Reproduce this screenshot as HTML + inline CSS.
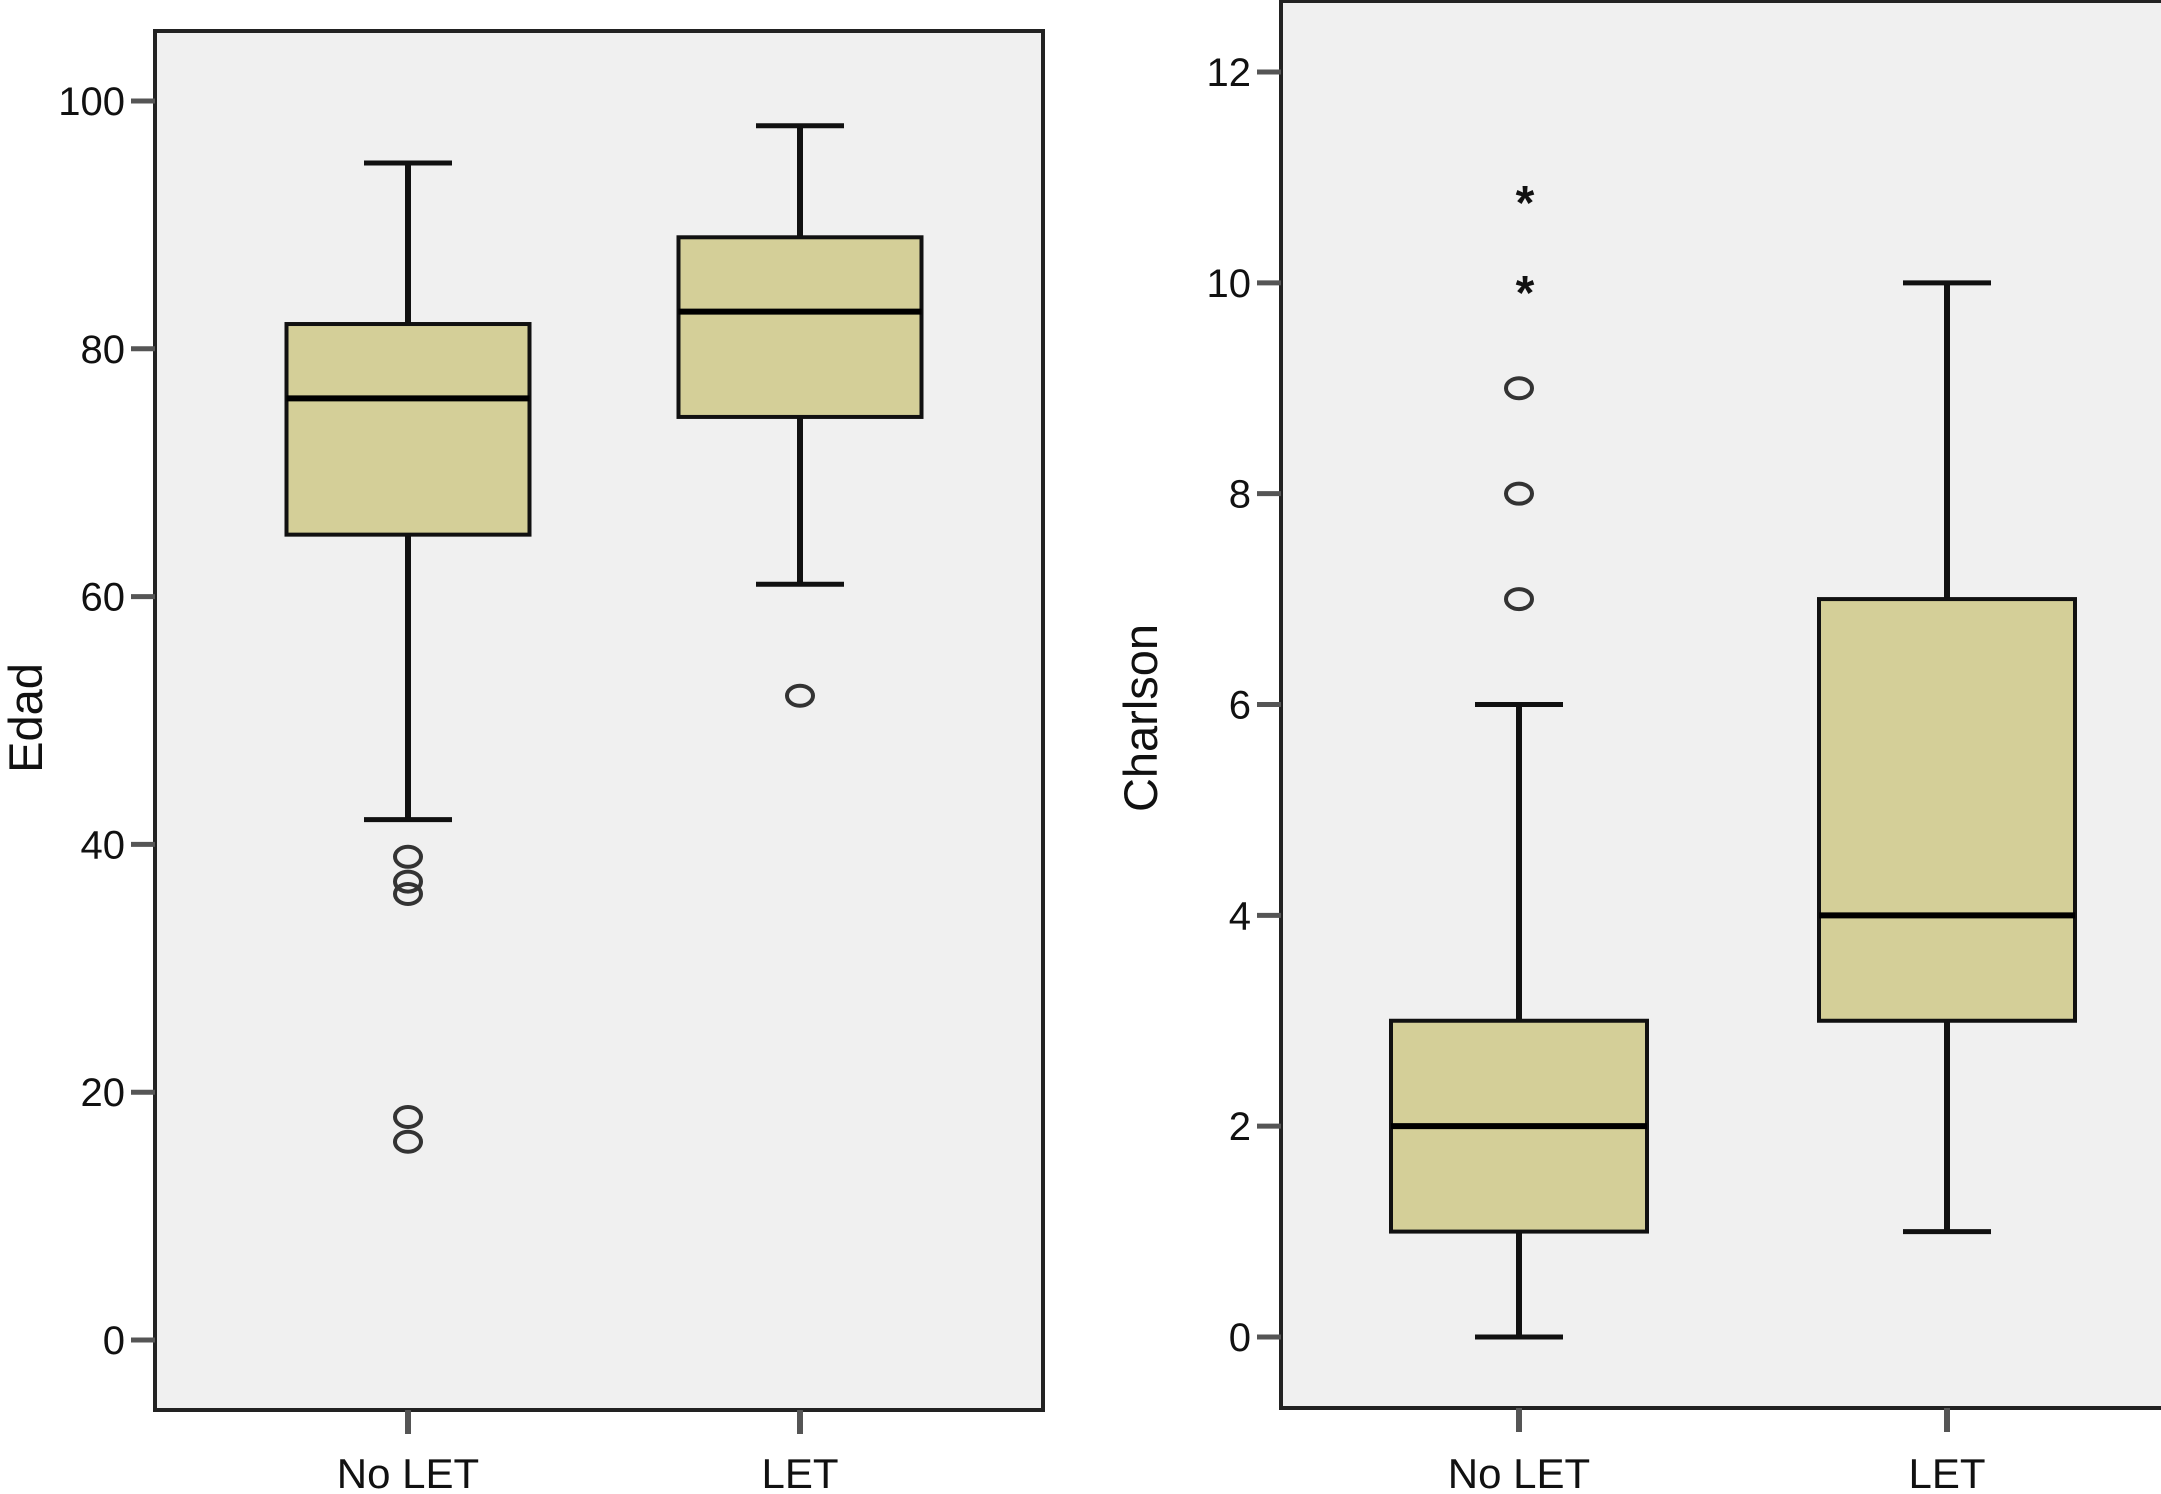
<!DOCTYPE html>
<html><head><meta charset="utf-8"><style>
html,body{margin:0;padding:0;background:#fff;}
svg{display:block;font-family:"Liberation Sans",sans-serif;}
</style></head><body>
<svg id="chart" width="2161" height="1494" viewBox="0 0 2161 1494" xmlns="http://www.w3.org/2000/svg"></svg>
<script>
const categories = ["No LET", "LET"];
const edadLow = [42, 61];
const edadQ1 = [65, 74.5];
const edadMedian = [76, 83];
const edadQ3 = [82, 89];
const edadHigh = [95, 98];
const edadOutliers = [[39, 37, 36, 18, 16], [52]];
const edadTicks = [0, 20, 40, 60, 80, 100];
const chLow = [0, 1];
const chQ1 = [1, 3];
const chMedian = [2, 4];
const chQ3 = [3, 7];
const chHigh = [6, 10];
const chOutliers = [[7, 8, 9], []];
const chExtremes = [[10, 10.85], []];
const chTicks = [0, 2, 4, 6, 8, 10, 12];

const NS = "http://www.w3.org/2000/svg";
const svg = document.getElementById("chart");
function mk(tag, attrs, parent) {
  const e = document.createElementNS(NS, tag);
  for (const k in attrs) e.setAttribute(k, attrs[k]);
  (parent || svg).appendChild(e);
  return e;
}

function panel(cfg) {
  const g = mk("g", {});
  
  
  const y = v => cfg.y0 + (v - cfg.vmin) * (cfg.y1 - cfg.y0) / (cfg.vmax - cfg.vmin);
  const frame = mk("rect", {x: cfg.fx0, y: cfg.fy0, width: cfg.fx1 - cfg.fx0, height: cfg.fy1 - cfg.fy0, fill: "#f0f0f0", stroke: "#222", "stroke-width": 4}, g);
  
  
  cfg.ticks.forEach(t => {
    const tl = mk("line", {x1: cfg.fx0 - 24, x2: cfg.fx0, y1: y(t), y2: y(t), stroke: "#555", "stroke-width": 5}, g);
    
    
    const tx = mk("text", {x: cfg.fx0 - 30, y: y(t) + 14, "text-anchor": "end", "font-size": 40, fill: "#111"}, g);
    tx.textContent = t;
    
    
  });
  const yl = mk("text", {transform: `translate(${cfg.ylx},${cfg.yly}) rotate(-90)`, "text-anchor": "middle", "font-size": 47, fill: "#111"}, g);
  yl.textContent = cfg.ylabel;
  
  
  categories.forEach((c, i) => {
    const cx = cfg.cx[i], hw = cfg.bw / 2;
    const xt = mk("line", {x1: cx, x2: cx, y1: cfg.fy1, y2: cfg.fy1 + 24, stroke: "#555", "stroke-width": 6}, g);
    
    
    const xl = mk("text", {x: cx, y: 1488, "text-anchor": "middle", "font-size": 42, fill: "#111"}, g);
    xl.textContent = c;
    
    
    const wl = mk("line", {x1: cx, x2: cx, y1: y(cfg.low[i]), y2: y(cfg.high[i]), stroke: "#111", "stroke-width": 6}, g);
    
    
    [cfg.low[i], cfg.high[i]].forEach(v => {
      const cap = mk("line", {x1: cx - 44, x2: cx + 44, y1: y(v), y2: y(v), stroke: "#111", "stroke-width": 5}, g);
      
      
    });
    const box = mk("rect", {x: cx - hw, y: y(cfg.q3[i]), width: cfg.bw, height: y(cfg.q1[i]) - y(cfg.q3[i]), fill: "#d4cf98", stroke: "#111", "stroke-width": 4}, g);
    
    
    const md = mk("line", {x1: cx - hw, x2: cx + hw, y1: y(cfg.med[i]), y2: y(cfg.med[i]), stroke: "#000", "stroke-width": 6}, g);
    
    
    cfg.out[i].forEach(v => {
      const o = mk("ellipse", {cx: cx, cy: y(v), rx: 13, ry: 10, fill: "none", stroke: "#333", "stroke-width": 4}, g);
      
      
    });
    (cfg.ext ? cfg.ext[i] : []).forEach(v => {
      const s = mk("text", {x: cx + 6, y: y(v) + 26, "text-anchor": "middle", "font-size": 48, "font-weight": "bold", fill: "#111"}, g);
      s.textContent = "*";
      
      
    });
  });
}

panel({name: "edad-panel", fx0: 155, fx1: 1043, fy0: 31, fy1: 1410, y0: 1340, y1: 101, vmin: 0, vmax: 100,
  ticks: edadTicks, ylabel: "Edad", ylx: 42, yly: 718, cx: [408, 800], bw: 243,
  low: edadLow, q1: edadQ1, med: edadMedian, q3: edadQ3, high: edadHigh, out: edadOutliers});
panel({name: "charlson-panel", fx0: 1281, fx1: 2175, fy0: 1, fy1: 1408, y0: 1337, y1: 72, vmin: 0, vmax: 12,
  ticks: chTicks, ylabel: "Charlson", ylx: 1157, yly: 718, cx: [1519, 1947], bw: 256,
  low: chLow, q1: chQ1, med: chMedian, q3: chQ3, high: chHigh, out: chOutliers, ext: chExtremes});
</script>
</body></html>
